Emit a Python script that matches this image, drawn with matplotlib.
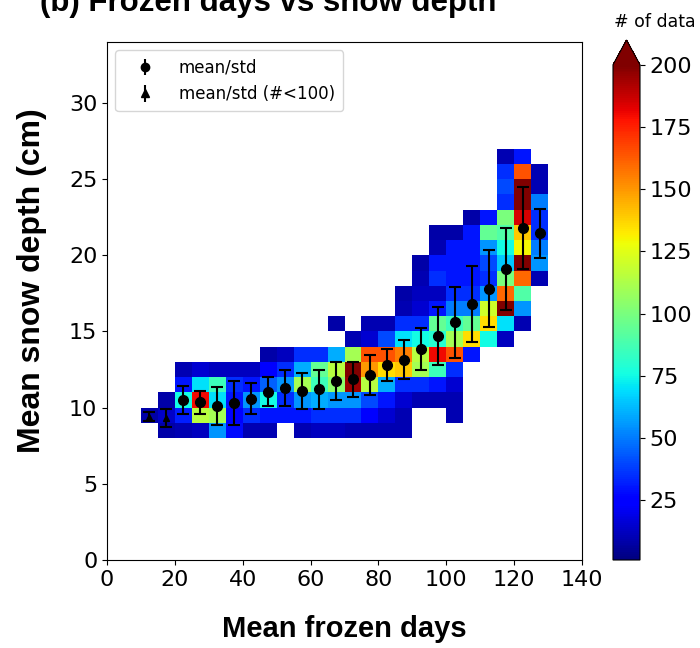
import numpy as np
import matplotlib
matplotlib.use("Agg")
import matplotlib.pyplot as plt

# 2D histogram: frozen-day bins (5 d) x snow-depth bins (1 cm)
x_edges = np.arange(10, 135, 5)
y_edges = np.arange(8, 28, 1)
y_lo = 8

# counts per frozen-day bin, given as {depth bin: count}
counts = [
    {9: 8},
    {8: 8, 9: 14, 10: 8},
    {8: 10, 9: 32, 10: 75, 11: 30, 12: 10},
    {8: 12, 9: 115, 10: 180, 11: 70, 12: 15},
    {8: 55, 9: 110, 10: 70, 11: 85, 12: 12},
    {8: 28, 9: 25, 10: 30, 11: 35, 12: 12},
    {8: 10, 9: 35, 10: 55, 11: 30, 12: 12},
    {8: 10, 9: 30, 10: 75, 11: 45, 12: 25, 13: 8},
    {9: 30, 10: 35, 11: 55, 12: 35, 13: 12},
    {8: 10, 9: 30, 10: 55, 11: 110, 12: 60, 13: 35},
    {8: 12, 9: 35, 10: 60, 11: 85, 12: 95, 13: 35},
    {8: 12, 9: 35, 10: 55, 11: 105, 12: 115, 13: 60, 15: 8},
    {8: 10, 9: 35, 10: 55, 11: 195, 12: 205, 13: 110, 14: 10},
    {8: 10, 9: 25, 10: 40, 11: 115, 12: 150, 13: 165, 14: 15, 15: 10},
    {8: 10, 9: 15, 10: 30, 11: 60, 12: 135, 13: 165, 14: 40, 15: 10},
    {8: 10, 9: 10, 10: 15, 11: 35, 12: 140, 13: 155, 14: 70, 15: 35, 16: 10, 17: 8},
    {10: 10, 11: 35, 12: 110, 13: 115, 14: 75, 15: 35, 16: 15, 17: 12, 18: 10, 19: 8},
    {10: 10, 11: 30, 12: 85, 13: 180, 14: 80, 15: 95, 16: 30, 17: 12, 18: 35, 19: 30,
     20: 10, 21: 8},
    {9: 10, 10: 10, 11: 15, 12: 35, 13: 165, 14: 110, 15: 85, 16: 50, 17: 35, 18: 30,
     19: 30, 20: 30, 21: 8},
    {13: 30, 14: 135, 15: 95, 16: 50, 17: 35, 18: 30, 19: 30, 20: 30, 21: 30, 22: 8},
    {14: 75, 15: 135, 16: 120, 17: 55, 18: 35, 19: 40, 20: 55, 21: 95, 22: 30},
    {14: 12, 15: 70, 16: 210, 17: 160, 18: 100, 19: 65, 20: 75, 21: 90, 22: 100,
     23: 35, 24: 40, 25: 35, 26: 10},
    {15: 10, 16: 55, 17: 90, 18: 160, 19: 210, 20: 130, 21: 140, 22: 185, 23: 210,
     24: 205, 25: 165, 26: 30},
    {18: 10, 19: 55, 20: 50, 21: 35, 22: 35, 23: 50, 24: 10, 25: 10},
]

# mean / std of snow depth per frozen-day bin
bin_centers = [12.5, 17.5, 22.5, 27.5, 32.5, 37.5, 42.5, 47.5, 52.5, 57.5, 62.5, 67.5,
               72.5, 77.5, 82.5, 87.5, 92.5, 97.5, 102.5, 107.5, 112.5, 117.5, 122.5, 127.5]
mean_depth = [9.4, 9.3, 10.5, 10.35, 10.1, 10.3, 10.6, 11.05, 11.3, 11.1, 11.2, 11.75,
              11.85, 12.15, 12.8, 13.15, 13.85, 14.7, 15.6, 16.8, 17.8, 19.1, 21.8, 21.45]
std_depth = [0.3, 0.6, 0.9, 0.75, 1.25, 1.45, 1.0, 0.95, 1.2, 1.2, 1.3, 1.27,
             1.15, 1.3, 1.07, 1.27, 1.37, 1.9, 2.33, 2.47, 2.52, 2.7, 2.68, 1.61]

# fill the grid
grid = np.zeros((len(y_edges) - 1, len(x_edges) - 1))
for i, col in enumerate(counts):
    for yb, n in col.items():
        grid[yb - y_lo, i] = n
grid = np.ma.masked_where(grid == 0, grid)

fig = plt.figure(figsize=(7, 6.48), dpi=100)
ax = fig.add_axes([107 / 700, 1 - 560 / 648, 475 / 700, 518 / 648])
cax = fig.add_axes([613 / 700, 1 - 560 / 648, 27 / 700, 520 / 648])

mesh = ax.pcolormesh(x_edges, y_edges, grid, cmap="jet", vmin=1, vmax=200)

# bins with fewer than 100 samples get a triangle
totals = [sum(c.values()) for c in counts]
for xc, m, s, n in zip(bin_centers, mean_depth, std_depth, totals):
    mk = "o" if n >= 100 else "^"
    ax.errorbar(xc, m, yerr=s, fmt=mk, color="k", ms=7 if mk == "o" else 5,
                elinewidth=1.5, capsize=4.5, capthick=1.5)

# legend handles
h1 = ax.errorbar([], [], yerr=[], fmt="o", color="k", ms=6, capsize=3, elinewidth=1.5)
h2 = ax.errorbar([], [], yerr=[], fmt="^", color="k", ms=6, capsize=3, elinewidth=1.5)
ax.legend([h1, h2], ["mean/std", "mean/std (#<100)"], loc="upper left", fontsize=12,
          handlelength=2.5, borderpad=0.5)

ax.set_xlim(0, 140)
ax.set_ylim(0, 34)
ax.set_xticks(np.arange(0, 141, 20))
ax.set_yticks(np.arange(0, 31, 5))
ax.tick_params(labelsize=16)
ax.set_xlabel("Mean frozen days", fontsize=21, fontweight="bold", family="Liberation Sans")
ax.set_ylabel("Mean snow depth (cm)", fontsize=23, fontweight="bold", family="Liberation Sans")
ax.xaxis.set_label_coords(0.5, -0.106)
ax.yaxis.set_label_coords(-0.126, 0.539)

cbar = fig.colorbar(mesh, cax=cax, extend="max")
cbar.set_ticks([25, 50, 75, 100, 125, 150, 175, 200])
cbar.ax.tick_params(labelsize=16)
fig.text(655 / 700, 1 - 22 / 648, "# of data", ha="center", va="center", fontsize=12.5)

# title sits partly above the figure edge, as in the source image
fig.text(40 / 700, 1 - 11 / 648, "(b) Frozen days vs snow depth", ha="left",
         va="baseline", fontsize=22.5, fontweight="bold", family="Liberation Sans")

fig.savefig("out.png", dpi=100)
